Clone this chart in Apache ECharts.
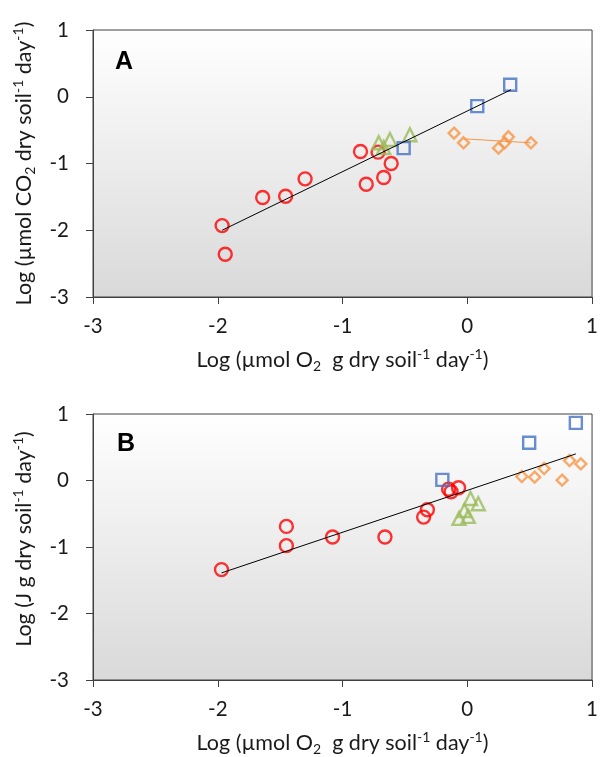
<!DOCTYPE html>
<html>
<head>
<meta charset="utf-8">
<script src="https://cdn.jsdelivr.net/npm/echarts@6/dist/echarts.min.js"></script>
<style>
  html, body { margin: 0; padding: 0; background: #fff; }
  #chart { width: 601px; height: 757px; }
</style>
</head>
<body>
<div id="chart"></div>
<script>
// panel A: CO2 vs O2
var aRedX = [-1.965, -1.94, -1.64, -1.456, -1.30, -0.856, -0.715, -0.81, -0.67, -0.61];
var aRedY = [-1.93, -2.36, -1.51, -1.49, -1.23, -0.82, -0.83, -1.31, -1.21, -1.0];
var aGreenX = [-0.71, -0.67, -0.62, -0.46];
var aGreenY = [-0.69, -0.76, -0.64, -0.57];
var aBlueX = [-0.51, 0.08, 0.344];
var aBlueY = [-0.77, -0.14, 0.18];
var aOrangeX = [-0.106, -0.03, 0.25, 0.30, 0.33, 0.51];
var aOrangeY = [-0.545, -0.69, -0.77, -0.69, -0.60, -0.69];
var aFitX = [-1.965, 0.35];
var aFitY = [-2.0, 0.105];
var aOrangeFitX = [-0.03, 0.51];
var aOrangeFitY = [-0.63, -0.69];

// panel B: heat vs O2
var bRedX = [-1.97, -1.45, -1.45, -1.08, -0.66, -0.35, -0.32, -0.15, -0.13, -0.07];
var bRedY = [-1.34, -0.69, -0.98, -0.85, -0.85, -0.55, -0.44, -0.13, -0.17, -0.11];
var bGreenX = [0.026, 0.088, -0.024, 0.008, -0.066];
var bGreenY = [-0.27, -0.35, -0.45, -0.54, -0.57];
var bBlueX = [-0.2, 0.496, 0.87];
var bBlueY = [0.01, 0.567, 0.866];
var bOrangeX = [0.437, 0.54, 0.616, 0.76, 0.82, 0.91];
var bOrangeY = [0.06, 0.05, 0.18, 0.005, 0.30, 0.25];
var bFitX = [-1.97, 0.87];
var bFitY = [-1.39, 0.40];

var axisTicks = [-3, -2, -1, 0, 1];
var panelLabels = ['A', 'B'];
var xTitle = 'Log (µmol O{sub|2}  g dry soil{sup|-1} day{sup|-1})';
var yTitles = ['Log (µmol CO{sub|2} dry soil{sup|-1} day{sup|-1})', 'Log (J g dry soil{sup|-1} day{sup|-1})'];

var FONT = 'Lato';
var RED = '#ff0000', GREEN = '#9bbb59', BLUE = '#4472c4', ORANGE = '#f79646';

function zip(xs, ys) {
  return xs.map(function (x, i) { return [x, ys[i]]; });
}

var richStyle = {
  sub: { fontSize: 14, fontFamily: FONT, color: '#1a1a1a', verticalAlign: 'bottom', lineHeight: 13 },
  sup: { fontSize: 14, fontFamily: FONT, color: '#1a1a1a', verticalAlign: 'top', lineHeight: 13 }
};

function makeX(idx) {
  return {
    type: 'value', gridIndex: idx, min: -3, max: 1, interval: 1,
    name: xTitle, nameLocation: 'middle', nameGap: 50,
    nameTextStyle: { fontSize: 21.5, fontFamily: FONT, color: '#1a1a1a', lineHeight: 26, rich: richStyle },
    axisLine: { show: true, onZero: false, lineStyle: { color: '#404040', width: 1 } },
    axisTick: { show: true, inside: false, length: 7, lineStyle: { color: '#404040' } },
    axisLabel: { fontSize: 20.5, fontFamily: FONT, color: '#1a1a1a', margin: 19 },
    splitLine: { show: false }
  };
}

function makeY(idx, pad) {
  return {
    type: 'value', gridIndex: idx, min: -3, max: 1, interval: 1,
    name: yTitles[idx], nameLocation: 'middle', nameGap: 56,
    nameTextStyle: { fontSize: 21.5, fontFamily: FONT, color: '#1a1a1a', lineHeight: 26, rich: richStyle, padding: pad },
    axisLine: { show: true, onZero: false, lineStyle: { color: '#404040', width: 1 } },
    axisTick: { show: true, inside: false, length: 7, lineStyle: { color: '#404040' } },
    axisLabel: { fontSize: 20.5, fontFamily: FONT, color: '#1a1a1a', margin: 24,
      formatter: function (v) { return axisTicks.indexOf(v) >= 0 ? String(v) : ''; } },
    splitLine: { show: false }
  };
}

function bg() {
  return new echarts.graphic.LinearGradient(0, 0, 0, 1, [
    { offset: 0, color: '#ffffff' },
    { offset: 1, color: '#d9d9d9' }
  ]);
}

function pts(name, idx, xs, ys, symbol, size, color) {
  return {
    name: name, type: 'scatter', xAxisIndex: idx, yAxisIndex: idx,
    symbol: symbol, symbolSize: size, data: zip(xs, ys), z: 3,
    itemStyle: { color: 'rgba(0,0,0,0)', borderColor: color, borderWidth: 2.4 }
  };
}

function fit(idx, xs, ys, color) {
  return {
    type: 'line', xAxisIndex: idx, yAxisIndex: idx, data: zip(xs, ys),
    symbol: 'none', z: 4, silent: true,
    lineStyle: { color: color, width: 1 }
  };
}

var chart = echarts.init(document.getElementById('chart'));
chart.setOption({
  animation: false,
  title: [
    { text: panelLabels[0], left: 110, top: 45, textStyle: { fontSize: 25, fontWeight: 'bold', fontFamily: 'Liberation Sans', color: '#000' } },
    { text: panelLabels[1], left: 112, top: 427, textStyle: { fontSize: 25, fontWeight: 'bold', fontFamily: 'Liberation Sans', color: '#000' } }
  ],
  grid: [
    { left: 93, top: 30, width: 500, height: 267, show: true, backgroundColor: bg(), borderColor: '#404040', borderWidth: 1 },
    { left: 93, top: 414, width: 500, height: 268, show: true, backgroundColor: bg(), borderColor: '#404040', borderWidth: 1 }
  ],
  xAxis: [makeX(0), makeX(1)],
  yAxis: [makeY(0, 0), makeY(1, [0, 0, 0, 16])],
  series: [
    fit(0, aFitX, aFitY, '#000'),
    fit(0, aOrangeFitX, aOrangeFitY, ORANGE),
    pts('red A', 0, aRedX, aRedY, 'circle', 13, RED),
    pts('green A', 0, aGreenX, aGreenY, 'triangle', 13, GREEN),
    pts('blue A', 0, aBlueX, aBlueY, 'rect', 12, BLUE),
    pts('orange A', 0, aOrangeX, aOrangeY, 'diamond', 11, ORANGE),
    fit(1, bFitX, bFitY, '#000'),
    pts('red B', 1, bRedX, bRedY, 'circle', 13, RED),
    pts('green B', 1, bGreenX, bGreenY, 'triangle', 13, GREEN),
    pts('blue B', 1, bBlueX, bBlueY, 'rect', 12, BLUE),
    pts('orange B', 1, bOrangeX, bOrangeY, 'diamond', 11, ORANGE)
  ]
});
</script>
</body>
</html>
